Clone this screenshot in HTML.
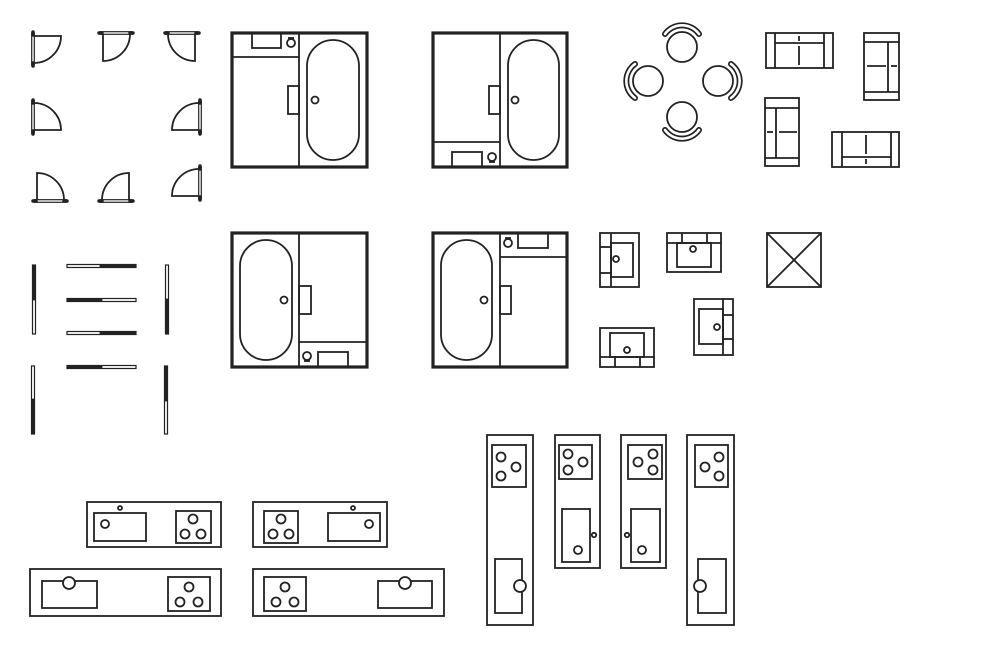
<!DOCTYPE html>
<html><head><meta charset="utf-8"><style>html,body{margin:0;padding:0;background:#fff}svg{display:block}</style></head>
<body>
<svg width="1000" height="667" viewBox="0 0 1000 667" xmlns="http://www.w3.org/2000/svg">
<defs>
<g id="door" fill="none" stroke="#222">
<rect x="-1.3" y="0" width="2.6" height="32" stroke-width="1.2" fill="#fff"/>
<line x1="0" y1="-1" x2="0" y2="2" stroke-width="3.5" stroke-linecap="round"/>
<line x1="0" y1="30" x2="0" y2="33" stroke-width="3.5" stroke-linecap="round"/>
<path d="M1.5,3 H28 A27,27 0 0 1 1.5,30" stroke-width="1.8"/>
</g>
<g id="slideV" stroke="#222">
<rect x="-1.5" y="0" width="3" height="69" rx="1.5" fill="#fff" stroke-width="1.2"/>
</g>
</defs>
<rect width="1000" height="667" fill="#fff"/>

<!-- doors -->
<use href="#door" transform="translate(33,33)"/>
<use href="#door" transform="matrix(0,1,1,0,100,33)"/>
<use href="#door" transform="matrix(0,1,-1,0,198,33)"/>
<use href="#door" transform="matrix(1,0,0,-1,33,133)"/>
<use href="#door" transform="matrix(-1,0,0,-1,200,133)"/>
<use href="#door" transform="matrix(0,-1,1,0,34,201)"/>
<use href="#door" transform="matrix(0,-1,-1,0,132,201)"/>
<use href="#door" transform="matrix(-1,0,0,-1,200,199)"/>

<!-- sliding doors -->
<g stroke="#222" stroke-linecap="round">
<rect x="32.5" y="265" width="3" height="69" fill="#fff" stroke-width="1.2"/><line x1="34" y1="266" x2="34" y2="299" stroke-width="3"/>
<rect x="31.5" y="366" width="3" height="68" fill="#fff" stroke-width="1.2"/><line x1="33" y1="400" x2="33" y2="433" stroke-width="3"/>
<rect x="165.5" y="265" width="3" height="69" fill="#fff" stroke-width="1.2"/><line x1="167" y1="300" x2="167" y2="333" stroke-width="3"/>
<rect x="164.5" y="366" width="3" height="68" fill="#fff" stroke-width="1.2"/><line x1="166" y1="367" x2="166" y2="400" stroke-width="3"/>
<rect x="67" y="264.5" width="69" height="3" fill="#fff" stroke-width="1.2"/><line x1="101" y1="266" x2="135" y2="266" stroke-width="3"/>
<rect x="67" y="298.5" width="69" height="3" fill="#fff" stroke-width="1.2"/><line x1="68" y1="300" x2="101" y2="300" stroke-width="3"/>
<rect x="67" y="331.5" width="69" height="3" fill="#fff" stroke-width="1.2"/><line x1="101" y1="333" x2="135" y2="333" stroke-width="3"/>
<rect x="67" y="365.5" width="69" height="3" fill="#fff" stroke-width="1.2"/><line x1="68" y1="367" x2="101" y2="367" stroke-width="3"/>
</g>

<g fill="none" stroke="#222" stroke-width="1.8">
<!-- Bath A -->
<rect x="232" y="33" width="135" height="134" stroke-width="3.2"/>
<line x1="299" y1="33" x2="299" y2="167"/>
<line x1="232" y1="57" x2="299" y2="57"/>
<rect x="252" y="33" width="29" height="15"/>
<circle cx="291" cy="43" r="4"/><line x1="288" y1="38" x2="294" y2="38"/>
<rect x="288" y="86" width="11" height="28"/>
<rect x="307" y="40" width="52" height="120" rx="26"/>
<circle cx="315" cy="100" r="3.5"/>
<!-- Bath B -->
<rect x="433" y="33" width="134" height="134" stroke-width="3.2"/>
<line x1="500" y1="33" x2="500" y2="167"/>
<line x1="433" y1="142" x2="500" y2="142"/>
<rect x="452" y="152" width="30" height="15"/>
<circle cx="492" cy="157" r="4"/><line x1="489" y1="162" x2="495" y2="162"/>
<rect x="489" y="86" width="11" height="28"/>
<rect x="508" y="40" width="51" height="120" rx="25.5"/>
<circle cx="515" cy="100" r="3.5"/>
<!-- Bath C -->
<rect x="232" y="233" width="135" height="134" stroke-width="3.2"/>
<line x1="299" y1="233" x2="299" y2="367"/>
<line x1="299" y1="342" x2="367" y2="342"/>
<rect x="318" y="352" width="30" height="15"/>
<circle cx="307" cy="356" r="4"/><line x1="304" y1="361" x2="310" y2="361"/>
<rect x="299" y="286" width="12" height="28"/>
<rect x="240" y="240" width="52" height="120" rx="26"/>
<circle cx="284" cy="300" r="3.5"/>
<!-- Bath D -->
<rect x="433" y="233" width="134" height="134" stroke-width="3.2"/>
<line x1="500" y1="233" x2="500" y2="367"/>
<line x1="500" y1="257" x2="567" y2="257"/>
<rect x="518" y="233" width="30" height="15"/>
<circle cx="508" cy="243" r="4"/><line x1="505" y1="238" x2="511" y2="238"/>
<rect x="500" y="286" width="11" height="28"/>
<rect x="441" y="240" width="51" height="120" rx="25.5"/>
<circle cx="484" cy="300" r="3.5"/>

<!-- table chairs -->
<circle cx="682" cy="47" r="15"/>
<circle cx="648" cy="81" r="15"/>
<circle cx="718" cy="81" r="15"/>
<circle cx="682" cy="117" r="15"/>
</g>
<g fill="none" stroke-linecap="round">
<g stroke="#222" stroke-width="6">
<path d="M665,34 A21,21 0 0 1 699,34"/>
<path d="M665,130 A21,21 0 0 0 699,130"/>
<path d="M635,64 A21,21 0 0 0 635,98"/>
<path d="M731,64 A21,21 0 0 1 731,98"/>
</g>
<g stroke="#fff" stroke-width="2.6">
<path d="M665,34 A21,21 0 0 1 699,34"/>
<path d="M665,130 A21,21 0 0 0 699,130"/>
<path d="M635,64 A21,21 0 0 0 635,98"/>
<path d="M731,64 A21,21 0 0 1 731,98"/>
</g>
</g>

<g fill="none" stroke="#222" stroke-width="1.8">
<!-- sofas -->
<rect x="766" y="33" width="67" height="35"/>
<line x1="775" y1="33" x2="775" y2="68"/><line x1="824" y1="33" x2="824" y2="68"/>
<line x1="775" y1="43" x2="824" y2="43"/>
<line x1="799" y1="36" x2="799" y2="41"/><line x1="799" y1="46" x2="799" y2="65"/>

<rect x="864" y="33" width="35" height="67"/>
<line x1="864" y1="42" x2="899" y2="42"/><line x1="864" y1="92" x2="899" y2="92"/>
<line x1="888" y1="42" x2="888" y2="92"/>
<line x1="867" y1="66" x2="886" y2="66"/><line x1="891" y1="66" x2="897" y2="66"/>

<rect x="765" y="98" width="34" height="68"/>
<line x1="765" y1="108" x2="799" y2="108"/><line x1="765" y1="158" x2="799" y2="158"/>
<line x1="776" y1="108" x2="776" y2="158"/>
<line x1="767" y1="132" x2="773" y2="132"/><line x1="779" y1="132" x2="797" y2="132"/>

<rect x="832" y="132" width="67" height="35"/>
<line x1="842" y1="132" x2="842" y2="167"/><line x1="891" y1="132" x2="891" y2="167"/>
<line x1="842" y1="157" x2="891" y2="157"/>
<line x1="866" y1="135" x2="866" y2="154"/><line x1="866" y1="159" x2="866" y2="164"/>

<!-- basins -->
<rect x="600" y="233" width="39" height="54"/>
<line x1="611" y1="233" x2="611" y2="287"/>
<line x1="600" y1="247" x2="611" y2="247"/><line x1="600" y1="273" x2="611" y2="273"/>
<rect x="611" y="243" width="22" height="34"/>
<circle cx="616" cy="259" r="3"/>

<rect x="667" y="233" width="54" height="39"/>
<line x1="667" y1="243" x2="721" y2="243"/>
<line x1="682" y1="233" x2="682" y2="243"/><line x1="707" y1="233" x2="707" y2="243"/>
<rect x="677" y="243" width="34" height="24"/>
<circle cx="693" cy="249" r="3"/>

<rect x="767" y="233" width="54" height="54"/>
<line x1="767" y1="233" x2="821" y2="287"/><line x1="821" y1="233" x2="767" y2="287"/>

<rect x="600" y="328" width="54" height="39"/>
<line x1="600" y1="357" x2="654" y2="357"/>
<line x1="615" y1="357" x2="615" y2="367"/><line x1="640" y1="357" x2="640" y2="367"/>
<rect x="610" y="333" width="34" height="24"/>
<circle cx="627" cy="350" r="3"/>

<rect x="694" y="299" width="39" height="56"/>
<line x1="723" y1="299" x2="723" y2="355"/>
<line x1="723" y1="315" x2="733" y2="315"/><line x1="723" y1="339" x2="733" y2="339"/>
<rect x="699" y="309" width="24" height="35"/>
<circle cx="717" cy="327" r="3"/>

<!-- horizontal kitchens -->
<rect x="87" y="502" width="134" height="45"/>
<rect x="94" y="513" width="52" height="28"/>
<circle cx="120" cy="508" r="2"/><circle cx="105" cy="524" r="4"/>
<rect x="176" y="511" width="35" height="32"/>
<circle cx="193" cy="519" r="4.5"/><circle cx="185" cy="534" r="4.5"/><circle cx="201" cy="534" r="4.5"/>

<rect x="253" y="502" width="134" height="45"/>
<rect x="264" y="511" width="34" height="32"/>
<circle cx="281" cy="519" r="4.5"/><circle cx="273" cy="534" r="4.5"/><circle cx="289" cy="534" r="4.5"/>
<rect x="328" y="513" width="52" height="28"/>
<circle cx="353" cy="508" r="2"/><circle cx="369" cy="524" r="4"/>

<rect x="30" y="569" width="191" height="47"/>
<rect x="42" y="581" width="55" height="27"/>
<circle cx="69" cy="583" r="6" fill="#fff"/>
<rect x="168" y="577" width="42" height="34"/>
<circle cx="189" cy="587" r="4.5"/><circle cx="180" cy="602" r="4.5"/><circle cx="198" cy="602" r="4.5"/>

<rect x="253" y="569" width="191" height="47"/>
<rect x="264" y="577" width="42" height="34"/>
<circle cx="285" cy="587" r="4.5"/><circle cx="276" cy="602" r="4.5"/><circle cx="294" cy="602" r="4.5"/>
<rect x="378" y="581" width="54" height="27"/>
<circle cx="405" cy="583" r="6" fill="#fff"/>

<!-- vertical kitchens -->
<rect x="487" y="435" width="46" height="190"/>
<rect x="492" y="445" width="34" height="42"/>
<circle cx="501" cy="457" r="4.5"/><circle cx="501" cy="476" r="4.5"/><circle cx="516" cy="467" r="4.5"/>
<rect x="495" y="559" width="27" height="54"/>
<circle cx="520" cy="586" r="6" fill="#fff"/>

<rect x="555" y="435" width="45" height="133"/>
<rect x="559" y="445" width="33" height="34"/>
<circle cx="568" cy="454" r="4.5"/><circle cx="568" cy="470" r="4.5"/><circle cx="583" cy="462" r="4.5"/>
<rect x="562" y="509" width="28" height="53"/>
<circle cx="594" cy="535" r="2.2"/><circle cx="578" cy="550" r="4"/>

<rect x="621" y="435" width="45" height="133"/>
<rect x="628" y="445" width="34" height="34"/>
<circle cx="638" cy="462" r="4.5"/><circle cx="653" cy="454" r="4.5"/><circle cx="653" cy="470" r="4.5"/>
<rect x="631" y="509" width="29" height="53"/>
<circle cx="627" cy="535" r="2.2"/><circle cx="642" cy="550" r="4"/>

<rect x="687" y="435" width="47" height="190"/>
<rect x="695" y="445" width="33" height="42"/>
<circle cx="705" cy="467" r="4.5"/><circle cx="719" cy="457" r="4.5"/><circle cx="719" cy="476" r="4.5"/>
<rect x="698" y="559" width="28" height="54"/>
<circle cx="700" cy="586" r="6" fill="#fff"/>
</g>
</svg>
</body></html>
